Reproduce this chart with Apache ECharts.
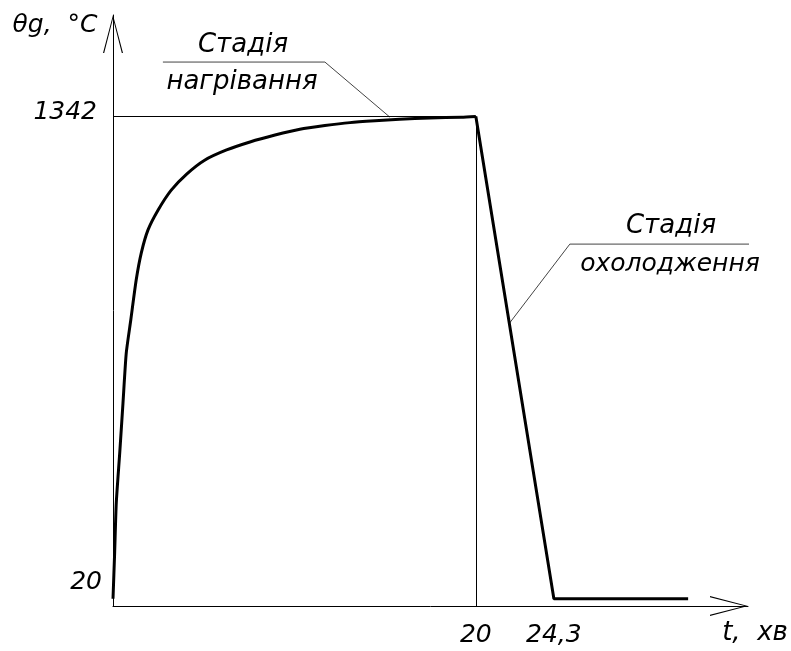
<!DOCTYPE html>
<html>
<head>
<meta charset="utf-8">
<script src="https://cdn.jsdelivr.net/npm/echarts@6/dist/echarts.min.js"></script>
<style>
  html, body { margin: 0; padding: 0; background: #fff; }
  #chart { width: 791px; height: 651px; }
</style>
</head>
<body>
<div id="chart"></div>
<script>
// Gas temperature vs time: heating stage (t, min ; θg, °C)
const heatingTime = [0, 0.09, 0.18, 0.37, 0.55, 0.73, 0.98, 1.28, 1.56, 1.93, 2.48, 3.21, 4.06, 5.05, 6.26, 7.55, 8.93, 10.3, 11.68, 13.06, 14.44, 15.8, 17.47, 19.2, 20];
const heatingTemp = [20, 145, 282, 419, 556, 693, 784, 894, 968, 1031, 1085, 1140, 1184, 1222, 1250, 1272, 1291, 1307, 1317, 1325, 1330, 1334, 1338, 1340, 1342];

// Cooling stage and the ambient level afterwards
const coolingTime = [20, 24.3, 31.7];
const coolingTemp = [1342, 20, 20];

// Marked values on the axes
const yTickValues = [20, 1342];
const xTickValues = [20, 24.3];
const xTickText = ['20', '24,3'];

// Leader lines for the stage captions (data space)
const heatLeaderTime = [2.75, 11.68, 15.26];
const heatLeaderTemp = [1491, 1491, 1340];
const coolLeaderTime = [21.85, 25.18, 35.8];
const coolLeaderTemp = [775, 992, 992];

const zip = (a, b) => a.map((v, i) => [v, b[i]]);

const FONT = 'DejaVu Sans';
const ARROW = 'path://M10,0 L0,38 L1.2,38 L10,3.5 L18.8,38 L20,38 Z';

const chart = echarts.init(document.getElementById('chart'), null, { renderer: 'canvas' });

const textEl = (txt, x, y, size) => ({
  type: 'text',
  x: x, y: y,
  style: {
    text: txt,
    fontFamily: FONT,
    fontStyle: 'italic',
    fontSize: size,
    fill: '#000',
    textAlign: 'center',
    textVerticalAlign: 'middle',
    align: 'center',
    verticalAlign: 'middle'
  }
});

chart.setOption({
  backgroundColor: '#fff',
  animation: false,
  grid: { left: 113, right: 43, top: 15, bottom: 45, containLabel: false, outerBoundsMode: 'none' },
  xAxis: {
    type: 'value',
    min: 0,
    max: 35,
    splitLine: { show: false },
    axisTick: { show: false },
    axisLine: {
      show: true,
      onZero: false,
      symbol: ['none', ARROW],
      symbolSize: [20, 38],
      symbolOffset: [0, -19],
      lineStyle: { color: '#000', width: 1 }
    },
    axisLabel: {
      customValues: xTickValues,
      formatter: (v) => xTickText[xTickValues.indexOf(v)] || '',
      fontFamily: FONT,
      fontStyle: 'italic',
      fontSize: 25,
      color: '#000',
      margin: 15,
      lineHeight: 28,
      showMinLabel: true,
      showMaxLabel: true
    }
  },
  yAxis: {
    type: 'value',
    min: 0,
    max: 1620,
    splitLine: { show: false },
    axisTick: { show: false },
    axisLine: {
      show: true,
      onZero: false,
      symbol: ['none', ARROW],
      symbolSize: [20, 38],
      symbolOffset: [0, -19],
      lineStyle: { color: '#000', width: 1 }
    },
    axisLabel: {
      customValues: yTickValues,
      formatter: (v) => v === 20 ? '{lo|20}' : '{hi|' + v + '}',
      margin: 11,
      rich: {
        lo: { fontFamily: FONT, fontStyle: 'italic', fontSize: 25, color: '#000', lineHeight: 28, padding: [0, 0, 32, 0] },
        hi: { fontFamily: FONT, fontStyle: 'italic', fontSize: 25, color: '#000', lineHeight: 28, padding: [0, 5, 8, 0] }
      }
    }
  },
  series: [
    {
      name: 'Нагрівання',
      type: 'line',
      data: zip(heatingTime, heatingTemp),
      smooth: 0.2,
      symbol: 'none',
      lineStyle: { color: '#000', width: 3, join: 'round' },
      z: 5,
      markLine: {
        silent: true,
        symbol: ['none', 'none'],
        label: { show: false },
        lineStyle: { color: '#000', width: 1, type: 'solid' },
        data: [
          [{ coord: [heatingTime[0], heatingTemp[heatingTemp.length - 1]] }, { coord: [coolingTime[0], coolingTemp[0]] }],
          [{ coord: [coolingTime[0], 0] }, { coord: [coolingTime[0], coolingTemp[0]] }]
        ]
      }
    },
    {
      name: 'Охолодження',
      type: 'line',
      data: zip(coolingTime, coolingTemp),
      symbol: 'none',
      lineStyle: { color: '#000', width: 3 },
      z: 5
    },
    {
      name: 'leaderHeat',
      type: 'line',
      data: zip(heatLeaderTime, heatLeaderTemp),
      symbol: 'none',
      clip: false,
      silent: true,
      lineStyle: { color: '#444', width: 1 },
      z: 3
    },
    {
      name: 'leaderCool',
      type: 'line',
      data: zip(coolLeaderTime, coolLeaderTemp),
      symbol: 'none',
      clip: false,
      silent: true,
      lineStyle: { color: '#444', width: 1 },
      z: 3
    }
  ],
  graphic: [
    textEl('θg,  °C', 55, 25, 25),
    textEl('t,  хв', 755, 633, 26),
    textEl('Стадія', 243, 45, 26),
    textEl('нагрівання', 242, 82, 26),
    textEl('Стадія', 671, 226, 26),
    textEl('охолодження', 670, 264, 25)
  ]
});
</script>
</body>
</html>
